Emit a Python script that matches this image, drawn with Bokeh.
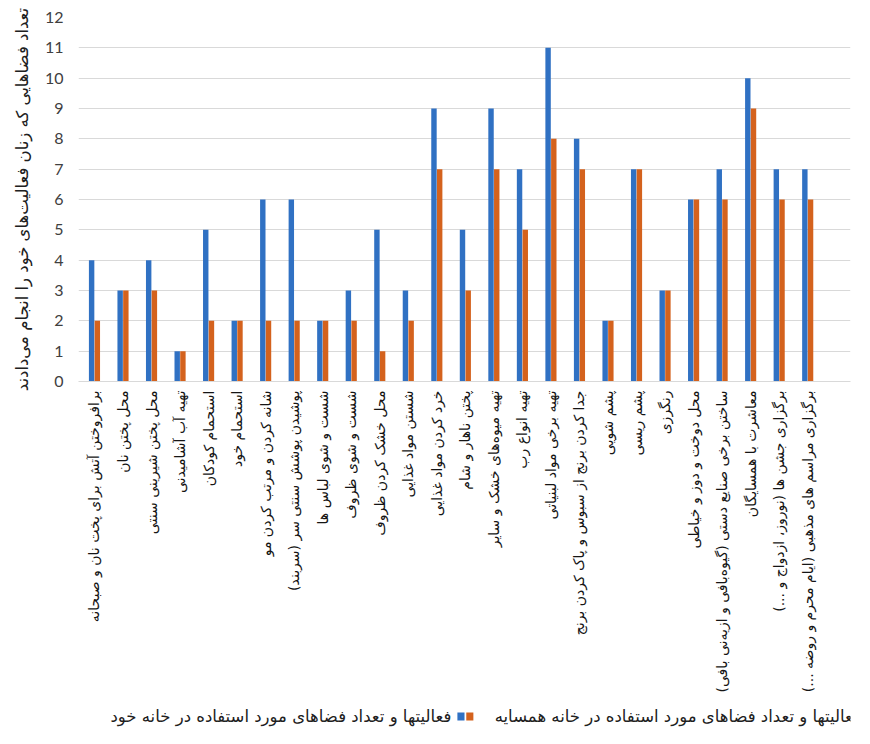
from math import pi

from bokeh.embed import file_html
from bokeh.layouts import column
from bokeh.models import ColumnDataSource, FixedTicker, Range1d
from bokeh.plotting import figure
from bokeh.resources import INLINE
from bokeh.core.properties import value
from bokeh.transform import dodge

# Activities (left to right along the x axis)
categories = [
    "برافروختن آتش برای پخت نان و صبحانه",
    "محل پختن نان",
    "محل پختن شیرینی سنتی",
    "تهیه آب آشامیدنی",
    "استحمام کودکان",
    "استحمام خود",
    "شانه کردن و مرتب کردن مو",
    "پوشیدن پوشش سنتی سر (سربند)",
    "شست و شوی لباس ها",
    "شست و شوی ظروف",
    "محل خشک کردن ظروف",
    "شستن مواد غذایی",
    "خرد کردن مواد غذایی",
    "پختن ناهار و شام",
    "تهیه میوه‌های خشک و سایر",
    "تهیه انواع رب",
    "تهیه برخی مواد لبنیاتی",
    "جدا کردن برنج از سبوس و پاک کردن برنج",
    "پشم شویی",
    "پشم ریسی",
    "رنگرزی",
    "محل دوخت و دوز و خیاطی",
    "ساختن برخی صنایع دستی (گیوه‌بافی و ازیه‌نی بافی)",
    "معاشرت با همسایگان",
    "برگزاری جشن ها (نوروز، ازدواج و ...)",
    "برگزاری مراسم های مذهبی (ایام محرم و روضه ...)",
]

# Number of spaces used in the woman's own house
own_house = [4, 3, 4, 1, 5, 2, 6, 6, 2, 3, 5, 3, 9, 5, 9, 7, 11, 8, 2, 7, 3, 6, 7, 10, 7, 7]
# Number of spaces used in the neighbour's house
neighbour_house = [2, 3, 3, 1, 2, 2, 2, 2, 2, 2, 1, 2, 7, 3, 7, 5, 8, 7, 2, 7, 3, 6, 6, 9, 6, 6]

series_names = [
    "فعالیتها و تعداد فضاهای مورد استفاده در خانه خود",
    "فعالیتها و تعداد فضاهای مورد استفاده در خانه همسایه",
]
y_ticks = list(range(0, 13))
y_title = "تعداد فضاهایی که زنان فعالیت‌های خود را انجام می‌دادند"

BLUE = "#3071C3"
ORANGE = "#D4621D"
GRID = "#D9D9D9"
TEXT = "#404040"
FA_FONT = "DejaVu Sans"
NUM_FONT = "Lato"

idx = list(range(len(categories)))
src = ColumnDataSource(dict(
    x=idx,
    own=own_house,
    nb=neighbour_house,
))

p = figure(
    width=870, height=700,
    x_range=Range1d(-0.56, 26.5),
    y_range=Range1d(0, 12),
    output_backend="svg", toolbar_location=None,
    min_border_left=78, min_border_right=20,
    min_border_top=17, min_border_bottom=319,
)
p.outline_line_color = None
p.background_fill_color = "white"
p.border_fill_color = "white"

# paired bars: own house on the left, neighbour's house on the right
bw = 0.19
p.vbar(x=dodge("x", -0.1), top="own", width=bw, bottom=0, source=src,
       fill_color=BLUE, line_color=None)
p.vbar(x=dodge("x", 0.1), top="nb", width=bw, bottom=0, source=src,
       fill_color=ORANGE, line_color=None)

# y axis
p.yaxis.ticker = FixedTicker(ticks=y_ticks)
p.yaxis.axis_line_color = None
p.yaxis.major_tick_line_color = None
p.yaxis.minor_tick_line_color = None
p.yaxis.major_label_text_font = NUM_FONT
p.yaxis.major_label_text_font_size = "16px"
p.yaxis.major_label_text_color = TEXT
p.yaxis.major_label_standoff = 9
p.yaxis.axis_label = y_title
p.yaxis.axis_label_text_font = FA_FONT
p.yaxis.axis_label_text_font_size = "16.5px"
p.yaxis.axis_label_text_font_style = "normal"
p.yaxis.axis_label_text_color = "#202020"
p.yaxis.axis_label_standoff = 10

# x axis
p.xaxis.ticker = FixedTicker(ticks=idx)
p.xaxis.major_label_overrides = {i: c for i, c in zip(idx, categories)}
p.xaxis.major_label_orientation = pi / 2
p.xaxis.major_label_text_font = FA_FONT
p.xaxis.major_label_text_font_size = "14px"
p.xaxis.major_label_text_color = "#151515"
p.xaxis.major_label_standoff = 3
p.xaxis.axis_line_color = GRID
p.xaxis.major_tick_line_color = None
p.xaxis.minor_tick_line_color = None

p.xgrid.grid_line_color = None
p.ygrid.grid_line_color = GRID
p.ygrid.grid_line_width = 1

# legend strip below the chart (no axes, so the frame spans the whole strip)
leg = figure(
    width=870, height=44,
    x_range=Range1d(0, 870), y_range=Range1d(0, 44),
    x_axis_type=None, y_axis_type=None,
    output_backend="svg", toolbar_location=None,
    min_border=0,
)
leg.grid.visible = False
leg.outline_line_color = None

leg_src = ColumnDataSource(dict(
    sx=[431, 441], sy=[28, 28], col=[BLUE, ORANGE],
    tx=[36, 469], ty=[28, 28], label=series_names,
))
leg.rect(x="sx", y="sy", width=8, height=8, fill_color="col", line_color=None, source=leg_src)
leg.text(x="tx", y="ty", text="label", text_align="left", text_baseline="middle",
         text_font=value(FA_FONT), text_font_size="16.5px", text_color="#202020", source=leg_src)

layout = column(p, leg, spacing=0)
open("out.html", "w").write(file_html(layout, INLINE))
